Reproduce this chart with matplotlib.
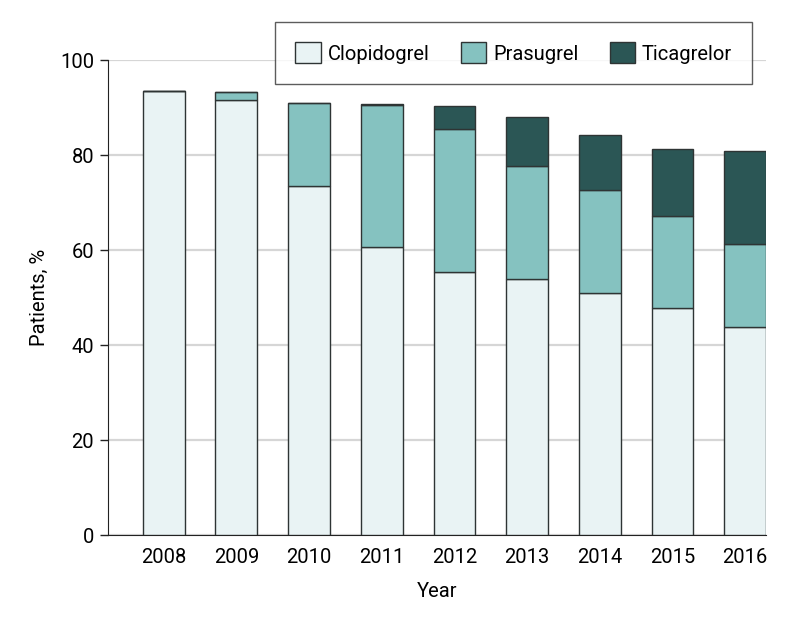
import numpy as np
import matplotlib
matplotlib.use("Agg")
import matplotlib.pyplot as plt

# --- Data ---
years = ["2008", "2009", "2010", "2011", "2012", "2013", "2014", "2015", "2016"]
clopidogrel = [93.5, 91.7, 73.5, 60.6, 55.3, 53.9, 50.9, 47.9, 43.9]
prasugrel = [0.0, 1.6, 17.5, 29.9, 30.3, 23.9, 21.7, 19.3, 17.4]
ticagrelor = [0.0, 0.0, 0.0, 0.3, 4.7, 10.3, 11.6, 14.0, 19.5]

series_names = ["Clopidogrel", "Prasugrel", "Ticagrelor"]
colors = ["#e9f3f4", "#85c2c0", "#2b5655"]

plt.rcParams['font.family'] = ['Roboto', 'DejaVu Sans']
FS = 14.5

fig = plt.figure(figsize=(7.98, 6.2), dpi=100)
ax = fig.add_axes([0.1353, 0.137, 0.8247, 0.766])

x = np.arange(len(years))
width = 0.574
bottom = np.zeros(len(years))
handles = []
for name, vals, col in zip(series_names, [clopidogrel, prasugrel, ticagrelor], colors):
    vals = np.array(vals)
    bars = ax.bar(x, vals, width, bottom=bottom, color=col, edgecolor="#2e3434",
                  linewidth=1.0, label=name, zorder=3)
    handles.append(bars)
    bottom += vals

ax.set_xlim(-0.766, len(years) - 1 + width / 2)
ax.set_ylim(0, 100)
ax.set_yticks([0, 20, 40, 60, 80, 100])
ax.set_xticks(x)
ax.set_xticklabels(years)
ax.yaxis.grid(True, color="#d6d6d6", linewidth=1.6, zorder=0)
ax.set_axisbelow(True)

for side in ["top", "right"]:
    ax.spines[side].set_visible(False)
ax.spines["left"].set_color("#222222")
ax.spines["bottom"].set_color("#222222")
ax.tick_params(axis="y", length=6, width=1, color="#222222", labelsize=FS, pad=4)
ax.tick_params(axis="x", length=0, labelsize=FS, pad=9)

ax.set_xlabel("Year", fontsize=FS, labelpad=11)
ax.set_ylabel("Patients, %", fontsize=FS, labelpad=8)

leg = fig.legend(handles=handles, labels=series_names, ncol=3, loc="upper right",
                 bbox_to_anchor=(752 / 798, 1 - 22 / 620), fontsize=FS,
                 frameon=True, fancybox=False, edgecolor="#333333",
                 handlelength=1.25, handleheight=1.25, handletextpad=0.35,
                 columnspacing=1.55, borderpad=1.0, borderaxespad=0)
leg.get_frame().set_linewidth(1.0)

fig.savefig("out.png", dpi=100)
